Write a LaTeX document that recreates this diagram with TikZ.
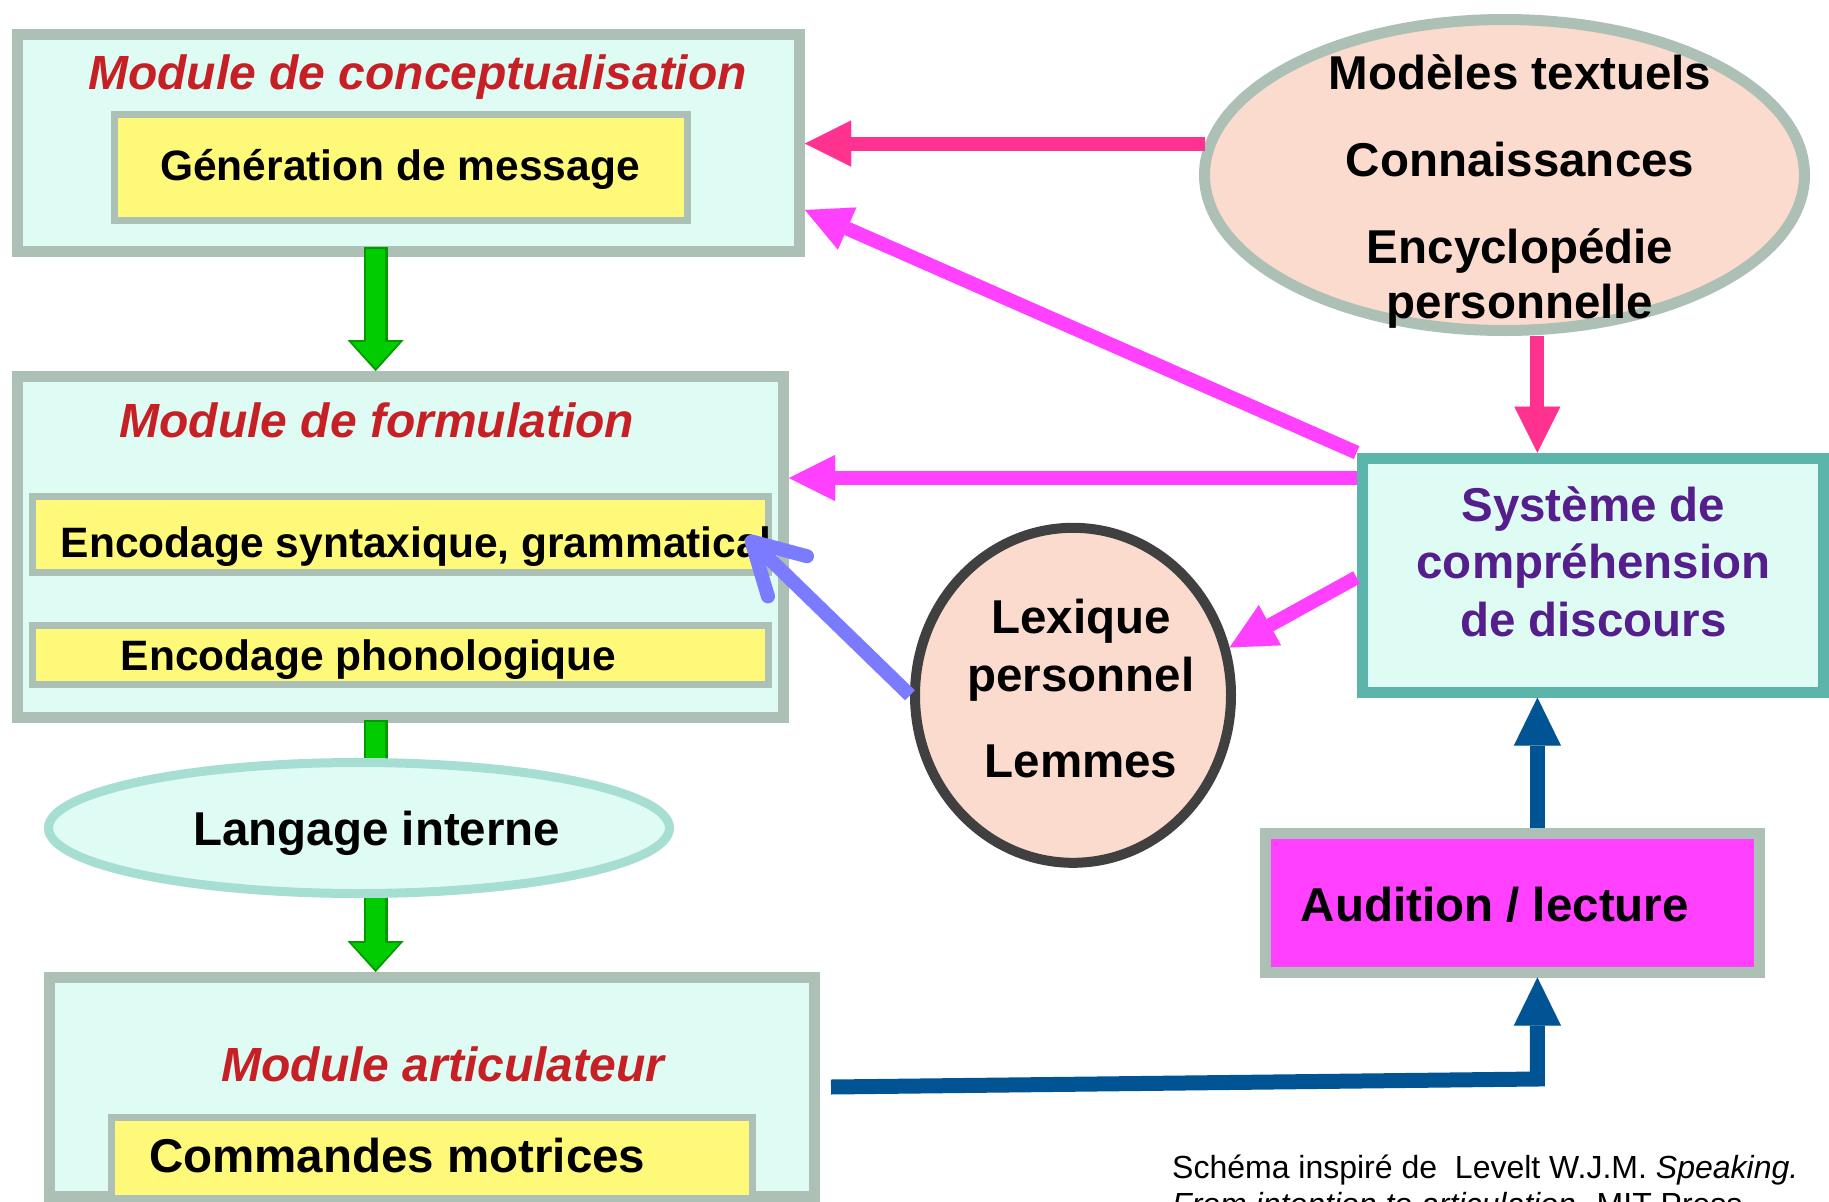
\documentclass[tikz,border=0pt]{standalone}
\usepackage{fontspec}
\setmainfont{Liberation Sans}
\usetikzlibrary{arrows.meta,shapes.geometric,calc}
\definecolor{cyanfill}{HTML}{DEFCF3}
\definecolor{grayb}{HTML}{ADC0B5}
\definecolor{yel}{HTML}{FFF97A}
\definecolor{redt}{HTML}{C62026}
\definecolor{greenA}{HTML}{00CC00}
\definecolor{greenD}{HTML}{009A00}
\definecolor{peach}{HTML}{FCDBCF}
\definecolor{hotpink}{HTML}{FF338F}
\definecolor{mag}{HTML}{FF40FF}
\definecolor{tealb}{HTML}{5CB5AA}
\definecolor{purp}{HTML}{561D8D}
\definecolor{viol}{HTML}{7B7BFF}
\definecolor{blueA}{HTML}{005493}
\definecolor{dgray}{HTML}{404040}
\definecolor{liborder}{HTML}{A7DED3}
\begin{document}
\begin{tikzpicture}[x=1pt,y=-1pt,
  modbox/.style={rectangle, draw=grayb, fill=cyanfill, line width=11pt, inner sep=0pt},
  ybox/.style={rectangle, draw=grayb, fill=yel, line width=7pt, inner sep=0pt},
  ttl/.style={text=redt, font=\fontsize{48}{56}\selectfont\bfseries\itshape, inner sep=0pt, anchor=base},
  bigtxt/.style={font=\fontsize{47.5}{55}\selectfont\bfseries, inner sep=0pt, anchor=base},
  midtxt/.style={font=\fontsize{42.5}{50}\selectfont\bfseries, inner sep=0pt, anchor=base},
  parrow/.style={line width=14pt, -{Triangle[length=46pt,width=46pt,line width=0.01pt]}},
  barrow/.style={draw=blueA, line width=15pt, -{Triangle[length=48pt,width=47pt,line width=0.01pt]}},
  garrowD/.style={draw=greenD, line width=24pt, -{Triangle[length=31pt,width=56pt,line width=0.01pt]}},
  garrow/.style={draw=greenA, line width=19pt, shorten >=3pt, -{Triangle[length=26pt,width=48pt,line width=0.01pt]}},
  varrow/.style={draw=viol, line width=14pt, -{Straight Barb[length=50pt,width=56pt,round]}}
]
\useasboundingbox (0,0) rectangle (1829,1202);
\fill[white] (0,0) rectangle (1829,1202);
\clip (0,0) rectangle (1829,1202);

\coordinate (gx) at (375.6,0);
\coordinate (ax) at (1537.4,0);
\coordinate (yd) at (0,210);
\coordinate (ym) at (0,478);
\coordinate (yl) at (0,577.4);
\coordinate (bend) at (1537.4,1079);

% Module de conceptualisation
\node[modbox, minimum width=782pt, minimum height=217pt] (c1) at (408.5,143) {};
\node[ybox, minimum width=573pt, minimum height=106pt] (g1) at (401,167.5) {};
\node[ttl] (t1) at (417.6,89.5) {Module de conceptualisation};
\node[midtxt] (g1t) at (400,180.8) {Génération de message};

% Module de formulation
\node[modbox, minimum width=766pt, minimum height=341pt] (f2) at (400.5,547) {};
\node[ybox, minimum width=736pt, minimum height=76pt] (ya) at (400.5,534.5) {};
\node[ybox, minimum width=736pt, minimum height=59.3pt] (yb) at (400.5,654.9) {};
\node[ttl] (t2) at (376.8,437.2) {Module de formulation};
\node[midtxt, anchor=base west] (yat) at (60.7,557.2) {Encodage syntaxique, grammatical};
\node[midtxt] (ybt) at (368.6,670.8) {Encodage phonologique};

% Module articulateur
\node[modbox, minimum width=765pt, minimum height=219pt] (a3) at (432,1087) {};
\node[ybox, minimum width=640.5pt, minimum height=81pt] (yc) at (432,1158) {};
\node[ttl] (t3) at (443,1081.2) {Module articulateur};
\node[bigtxt, anchor=base west] (yct) at (149,1172) {Commandes motrices};

% green arrows
\draw[garrowD] ($(c1.south -| gx)+(0,-10)$) -- (f2.north -| gx);
\draw[garrow] ($(c1.south -| gx)+(0,-8.5)$) -- (f2.north -| gx);
\draw[garrowD] ($(f2.south -| gx)+(0,-3)$) -- (a3.north -| gx);
\draw[garrow] ($(f2.south -| gx)+(0,-1.5)$) -- (a3.north -| gx);

% Langage interne
\node[ellipse, draw=liborder, fill=cyanfill, line width=9pt, minimum width=621pt, minimum height=131pt, inner sep=0pt] (li) at (359,828) {};
\node[bigtxt] (lit) at (376.8,845) {Langage interne};

% Modeles textuels
\node[ellipse, draw=grayb, fill=peach, line width=11pt, minimum width=600pt, minimum height=311pt, inner sep=0pt] (mt) at (1504.5,175) {};
\node[bigtxt] (mtt) at (1520,89.3) {\begin{tabular}[t]{@{}c@{}}Modèles textuels\\[32.5pt]Connaissances\\[31.2pt]Encyclopédie\\personnelle\end{tabular}};

% Systeme de comprehension
\node[rectangle, draw=tealb, fill=cyanfill, line width=11pt, minimum width=461.4pt, minimum height=234pt, inner sep=0pt] (sys) at (1592.8,575.1) {};
\node[bigtxt, text=purp, font=\fontsize{47.5}{57.7}\selectfont\bfseries] (syst) at (1593.4,521.2) {\begin{tabular}[t]{@{}c@{}}Système de\\compréhension\\de discours\end{tabular}};

% Lexique
\node[ellipse, draw=dgray, fill=peach, line width=10pt, minimum width=316pt, minimum height=335pt, inner sep=0pt] (lex) at (1073,695.3) {};
\node[bigtxt, font=\fontsize{47.5}{58}\selectfont\bfseries] (lext) at (1081,633.2) {\begin{tabular}[t]{@{}c@{}}Lexique\\personnel\\[28.6pt]Lemmes\end{tabular}};

% Audition
\node[rectangle, draw=grayb, fill=mag, line width=11pt, minimum width=494pt, minimum height=138.5pt, inner sep=0pt] (aud) at (1512.5,902.75) {};
\node[bigtxt, anchor=base west] (audt) at (1300.6,921) {Audition / lecture};

% arrows
\draw[parrow, draw=hotpink] (mt.174) -- (c1.east |- mt.174);
\draw[parrow, draw=hotpink] (mt.south -| ax) -- (sys.north -| ax);
\draw[parrow, draw=mag] (sys.north west) -- (c1.east |- yd);
\draw[parrow, draw=mag] (sys.west |- ym) -- (f2.east |- ym);
\draw[parrow, draw=mag] (sys.west |- yl) -- (lex.17);
\draw[varrow] (lex.west) -- ($(ya.east)+(-25.4,2.1)$);
\draw[barrow] (aud.north -| ax) -- (sys.south -| ax);
\draw[barrow, line join=miter] ($(a3.east)+(11,0)$) -- (bend) -- (aud.south -| ax);

% citation
\node[anchor=base west, inner sep=0pt, font=\fontsize{32}{37}\selectfont] (cite) at (1172,1178) {\begin{tabular}[t]{@{}l@{}}Schéma inspiré de\ \ Levelt W.J.M. \textit{Speaking.}\\\textit{From intention to articulation.} MIT Press\end{tabular}};
\end{tikzpicture}
\end{document}
